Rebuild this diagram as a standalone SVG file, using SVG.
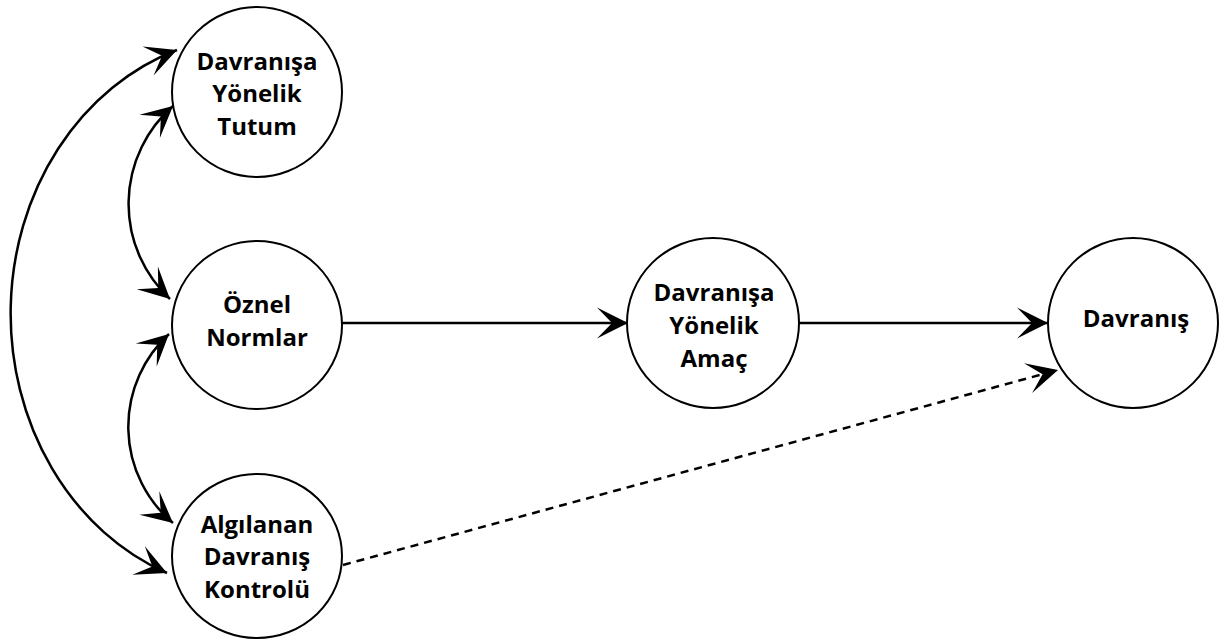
<svg xmlns="http://www.w3.org/2000/svg" width="1220" height="639" viewBox="0 0 1220 639">
<defs>
<marker id="ah" markerUnits="userSpaceOnUse" markerWidth="34" markerHeight="34" viewBox="-33 -17 34 34" refX="0" refY="0" orient="auto-start-reverse">
<path d="M0,0 L-31,-15.5 L-16,0 L-31,15.5 Z" fill="#000"/>
</marker>
<style>
.node{fill:#fff;stroke:#000;stroke-width:2}
.lbl{font-family:"Open Sans","Noto Sans","Liberation Sans",sans-serif;font-weight:bold;font-size:24px;fill:#000;text-anchor:middle}
.con{fill:none;stroke:#000;stroke-width:2.5}
.dash{stroke-dasharray:8 6}
</style>
</defs>
<rect width="1220" height="639" fill="#fff"/>
<g id="connectors">
<path class="con" d="M177,50 A244,278 0 0 0 167,573" marker-start="url(#ah)" marker-end="url(#ah)"/>
<path class="con" d="M173,106 A130,130 0 0 0 170,299" marker-start="url(#ah)" marker-end="url(#ah)"/>
<path class="con" d="M169,334 A126,126 0 0 0 173,523" marker-start="url(#ah)" marker-end="url(#ah)"/>
<path class="con" d="M342,323 L628,323" marker-end="url(#ah)"/>
<path class="con" d="M799,323 L1048,323" marker-end="url(#ah)"/>
<path class="con dash" d="M343,565 L1058,370" marker-end="url(#ah)"/>
</g>
<g id="node-tutum">
<ellipse class="node" cx="257" cy="92" rx="85" ry="85"/>
<text class="lbl" x="257" y="70">Davranışa</text>
<text class="lbl" x="257" y="102">Yönelik</text>
<text class="lbl" x="257" y="135">Tutum</text>
</g>
<g id="node-oznel">
<ellipse class="node" cx="257" cy="325" rx="85" ry="84"/>
<text class="lbl" x="257" y="313">Öznel</text>
<text class="lbl" x="257" y="346">Normlar</text>
</g>
<g id="node-kontrol">
<ellipse class="node" cx="257" cy="556" rx="85" ry="82"/>
<text class="lbl" x="257" y="533">Algılanan</text>
<text class="lbl" x="257" y="565">Davranış</text>
<text class="lbl" x="257" y="598">Kontrolü</text>
</g>
<g id="node-amac">
<ellipse class="node" cx="713" cy="323" rx="86" ry="85"/>
<text class="lbl" x="714" y="301">Davranışa</text>
<text class="lbl" x="714" y="334">Yönelik</text>
<text class="lbl" x="714" y="367">Amaç</text>
</g>
<g id="node-davranis">
<ellipse class="node" cx="1133" cy="323" rx="85" ry="85"/>
<text class="lbl" x="1136" y="327">Davranış</text>
</g>
</svg>
